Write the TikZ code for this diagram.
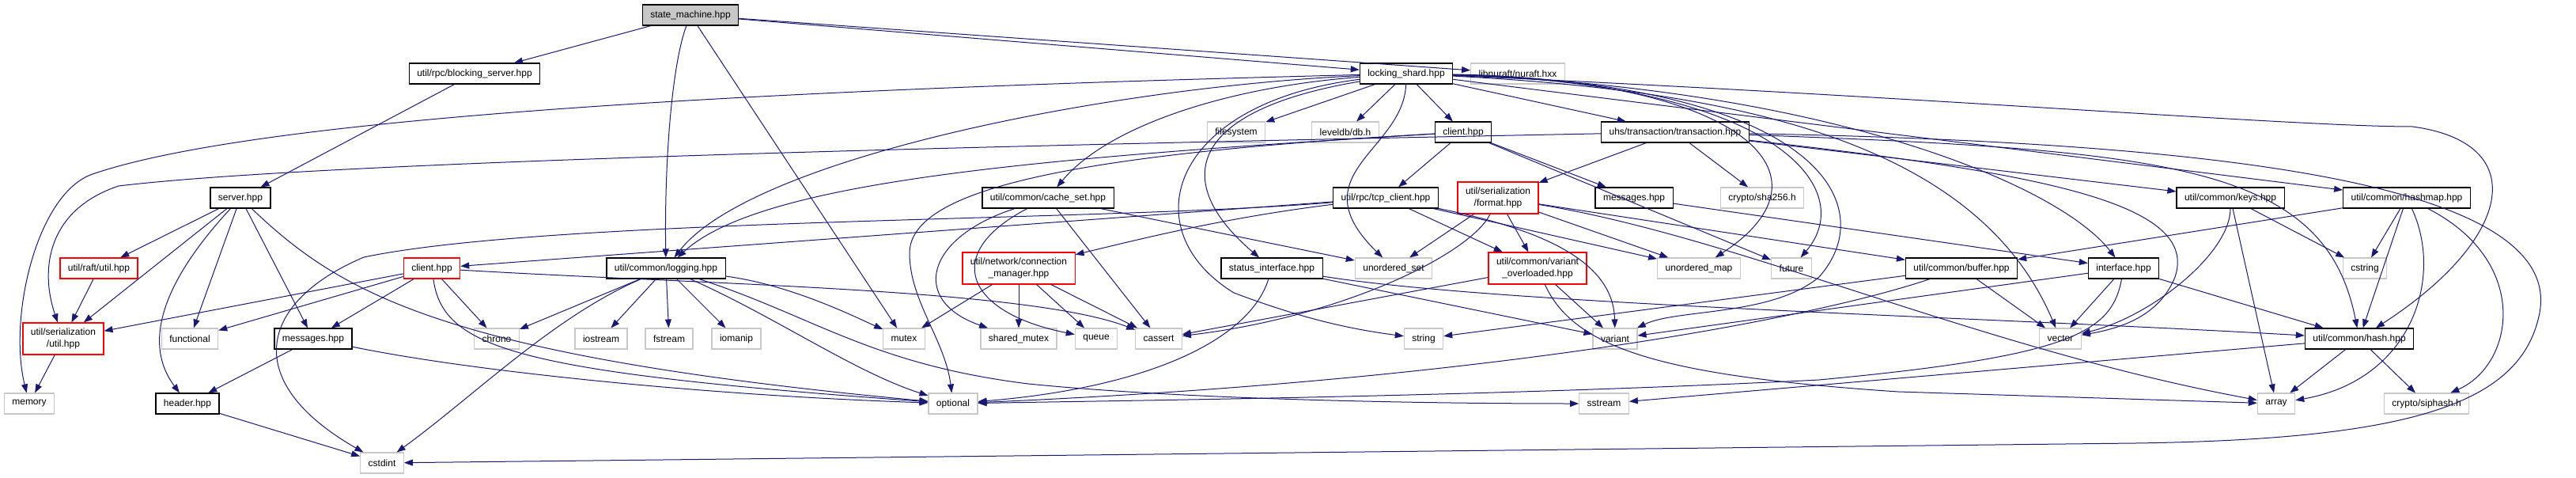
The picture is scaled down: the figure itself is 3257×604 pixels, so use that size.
\documentclass[tikz,border=0pt]{standalone}
\usepackage{fontspec}
\setmainfont{Liberation Sans}
\usetikzlibrary{arrows.meta}
\definecolor{edgeblue}{HTML}{191970}
\definecolor{extgray}{HTML}{C8C8C8}
\tikzset{
  file/.style={draw=black, line width=1.1pt, fill=white, inner xsep=10pt, inner ysep=0pt,
    minimum height=26pt, font=\fontsize{12}{15}\selectfont, align=center},
  sysfile/.style={file, draw=extgray},
  cutfile/.style={file, draw=red, minimum height=40pt},
  rootfile/.style={file, fill=extgray},
  inc/.style={draw=edgeblue, line width=1pt, -{Triangle[length=11pt,width=8pt]}},
}
\begin{document}
\begin{tikzpicture}[x=1pt,y=-1pt]
\useasboundingbox (0,0) rectangle (3257,604);

% row 0 and 1
\node[rootfile] (sm) at (873,19) {state\_machine.hpp};
\node[file] (bserver) at (600,93) {util/rpc/blocking\_server.hpp};
\node[file] (lshard) at (1778,93) {locking\_shard.hpp};
\node[sysfile] (nuraft) at (1919,93) {libnuraft/nuraft.hxx};

% row 2
\node[sysfile] (fsys) at (1563,167) {filesystem};
\node[sysfile] (leveldb) at (1701,167) {leveldb/db.h};
\node[file] (lsclient) at (1850,167) {client.hpp};
\node[file] (tx) at (2118,167) {uhs/transaction/transaction.hpp};

% row 3
\node[file] (server) at (304,250) {server.hpp};
\node[file] (cacheset) at (1325,250) {util/common/cache\_set.hpp};
\node[file] (tcpclient) at (1752,250) {util/rpc/tcp\_client.hpp};
\node[cutfile] (format) at (1894,250) {util/serialization\\/format.hpp};
\node[file] (lsmsg) at (2066,250) {messages.hpp};
\node[sysfile] (sha) at (2228,250) {crypto/sha256.h};
\node[file] (keys) at (2820,250) {util/common/keys.hpp};
\node[file] (hashmap) at (3043,250) {util/common/hashmap.hpp};

% row 4
\node[cutfile, minimum height=26pt] (raftutil) at (125,339) {util/raft/util.hpp};
\node[cutfile, minimum height=26pt] (rclient) at (546,339) {client.hpp};
\node[file] (logging) at (842,339) {util/common/logging.hpp};
\node[cutfile] (connmgr) at (1288,339) {util/network/connection\\\_manager.hpp};
\node[file] (statusif) at (1608,339) {status\_interface.hpp};
\node[sysfile] (uset) at (1762,339) {unordered\_set};
\node[cutfile] (varover) at (1944,339) {util/common/variant\\\_overloaded.hpp};
\node[sysfile] (umap) at (2148,339) {unordered\_map};
\node[sysfile] (future) at (2265,339) {future};
\node[file] (buffer) at (2480,339) {util/common/buffer.hpp};
\node[file] (iface) at (2685,339) {interface.hpp};
\node[sysfile] (cstring) at (2990,339) {cstring};

% row 5
\node[cutfile] (serutil) at (80,428) {util/serialization\\/util.hpp};
\node[sysfile] (functional) at (240,428) {functional};
\node[file] (rmsg) at (396,428) {messages.hpp};
\node[sysfile] (chrono) at (628,428) {chrono};
\node[sysfile] (iostream) at (760,428) {iostream};
\node[sysfile] (fstream) at (846,428) {fstream};
\node[sysfile] (iomanip) at (931,428) {iomanip};
\node[sysfile] (mutex) at (1143,428) {mutex};
\node[sysfile] (smutex) at (1288,428) {shared\_mutex};
\node[sysfile] (queue) at (1386,428) {queue};
\node[sysfile] (cassert) at (1465,428) {cassert};
\node[sysfile] (string) at (1800,428) {string};
\node[sysfile] (variant) at (2042,428) {variant};
\node[sysfile] (vector) at (2605,428) {vector};
\node[file] (hash) at (2983,428) {util/common/hash.hpp};

% row 6 and 7
\node[sysfile] (memory) at (37,510) {memory};
\node[file] (header) at (237,510) {header.hpp};
\node[sysfile] (optional) at (1205,510) {optional};
\node[sysfile] (sstream) at (2028,510) {sstream};
\node[sysfile] (array) at (2878,510) {array};
\node[sysfile] (siphash) at (3068,510) {crypto/siphash.h};
\node[sysfile] (cstdint) at (483,585) {cstdint};

% state_machine.hpp
\draw[inc] (sm) -- (bserver);
\draw[inc] (sm) -- (lshard);
\draw[inc] (sm) -- (nuraft);
\draw[inc] (sm) .. controls (850,80) and (840,200) .. (logging);
\draw[inc] (sm) -- (mutex);

% rpc server side
\draw[inc] (bserver) -- (server);
\draw[inc] (server) -- (raftutil);
\draw[inc] (server) -- (serutil);
\draw[inc] (server) .. controls (230,330) and (170,420) .. (header);
\draw[inc] (server) -- (functional);
\draw[inc] (server) -- (rmsg);
\draw[inc] (server) .. controls (430,370) and (560,450) .. (optional);
\draw[inc] (raftutil) -- (serutil);
\draw[inc] (serutil) -- (memory);
\draw[inc] (rmsg) -- (header);
\draw[inc] (rmsg) .. controls (600,470) and (900,500) .. (optional);
\draw[inc] (header) -- (cstdint);

% rpc client
\draw[inc] (rclient) -- (serutil);
\draw[inc] (rclient) -- (functional);
\draw[inc] (rclient) -- (rmsg);
\draw[inc] (rclient) -- (chrono);
\draw[inc] (rclient) .. controls (560,440) and (650,470) .. (optional);
\draw[inc] (rclient) .. controls (900,360) and (1300,365) .. (cassert);

% logging
\draw[inc] (logging) -- (chrono);
\draw[inc] (logging) .. controls (700,400) and (600,500) .. (cstdint);
\draw[inc] (logging) -- (iostream);
\draw[inc] (logging) -- (fstream);
\draw[inc] (logging) -- (iomanip);
\draw[inc] (logging) .. controls (980,400) and (1080,470) .. (optional);
\draw[inc] (logging) .. controls (1030,400) and (1100,460) .. (1300,485)
  .. controls (1500,505) and (1800,510) .. (sstream);
\draw[inc] (logging) .. controls (1000,360) and (1080,400) .. (mutex);

% locking_shard.hpp
\draw[inc] (lshard) -- (fsys);
\draw[inc] (lshard) -- (leveldb);
\draw[inc] (lshard) -- (lsclient);
\draw[inc] (lshard) -- (tx);
\draw[inc] (lshard) .. controls (1550,110) and (1400,160) .. (cacheset);
\draw[inc] (lshard) .. controls (1400,110) and (950,200) .. (logging);
\draw[inc] (lshard) .. controls (1100,110) and (350,140) .. (117,220)
  .. controls (47,244) and (10,400) .. (memory);
\draw[inc] (lshard) .. controls (1480,130) and (1430,290) .. (1560,370)
  .. controls (1640,400) and (1700,415) .. (string);
\draw[inc] (lshard) .. controls (1500,140) and (1480,230) .. (statusif);
\draw[inc] (lshard) .. controls (1775,190) and (1640,220) .. (uset);
\draw[inc] (lshard) .. controls (2200,100) and (2330,220) .. (umap);
\draw[inc] (lshard) .. controls (2250,105) and (2350,240) .. (future);
\draw[inc] (lshard) .. controls (2300,105) and (2380,260) .. (2300,350)
  .. controls (2240,400) and (2120,390) .. (variant);
\draw[inc] (lshard) .. controls (2200,115) and (2500,180) .. (vector);
\draw[inc] (lshard) .. controls (2300,110) and (2600,230) .. (iface);
\draw[inc] (lshard) .. controls (2400,120) and (2900,160) .. (3050,160)
  .. controls (3200,180) and (3180,300) .. (hash);
\draw[inc] (lshard) -- (hashmap);

% client.hpp (locking shard)
\draw[inc] (lsclient) -- (tcpclient);
\draw[inc] (lsclient) -- (lsmsg);
\draw[inc] (lsclient) .. controls (1300,200) and (960,230) .. (logging);
\draw[inc] (lsclient) .. controls (1350,195) and (1150,240) .. (1150,320)
  .. controls (1150,380) and (1195,430) .. (optional);
\draw[inc] (lsclient) -- (future);
\draw[inc] (lsmsg) -- (iface);

% transaction
\draw[inc] (tx) -- (format);
\draw[inc] (tx) -- (sha);
\draw[inc] (tx) -- (keys);
\draw[inc] (tx) .. controls (1200,185) and (400,205) .. (150,235)
  .. controls (60,265) and (50,340) .. (serutil);
\draw[inc] (tx) .. controls (2750,190) and (2940,210) .. (hash);
\draw[inc] (tx) .. controls (2600,220) and (2780,260) .. (2750,350)
  .. controls (2730,400) and (2680,415) .. (vector);
\draw[inc] (tx) .. controls (2800,180) and (3250,230) .. (3210,400)
  .. controls (3185,510) and (3050,555) .. (2700,560) -- (cstdint);

% tcp_client
\draw[inc] (tcpclient) -- (rclient);
\draw[inc] (tcpclient) .. controls (1550,275) and (1450,300) .. (connmgr);
\draw[inc] (tcpclient) .. controls (1400,280) and (700,275) .. (460,325)
  .. controls (330,380) and (300,480) .. (cstdint);
\draw[inc] (tcpclient) -- (umap);
\draw[inc] (tcpclient) -- (varover);
\draw[inc] (tcpclient) .. controls (1950,290) and (2040,330) .. (variant);

% serialization format
\draw[inc] (format) -- (varover);
\draw[inc] (format) -- (uset);
\draw[inc] (format) .. controls (1860,320) and (1700,400) .. (cassert);
\draw[inc] (format) -- (umap);
\draw[inc] (format) -- (buffer);
\draw[inc] (format) .. controls (2200,300) and (2500,440) .. (array);

% connection manager
\draw[inc] (connmgr) -- (mutex);
\draw[inc] (connmgr) -- (smutex);
\draw[inc] (connmgr) -- (queue);
\draw[inc] (connmgr) -- (cassert);

% cache set
\draw[inc] (cacheset) -- (cassert);
\draw[inc] (cacheset) .. controls (1170,300) and (1150,380) .. (smutex);
\draw[inc] (cacheset) .. controls (1190,320) and (1220,395) .. (queue);
\draw[inc] (cacheset) -- (uset);

% status interface
\draw[inc] (statusif) .. controls (1580,430) and (1450,490) .. (optional);
\draw[inc] (statusif) -- (variant);
\draw[inc] (statusif) .. controls (1900,385) and (2500,400) .. (hash);

% variant overloaded
\draw[inc] (varover) -- (variant);
\draw[inc] (varover) -- (cassert);
\draw[inc] (varover) .. controls (1990,440) and (2100,475) .. (2400,495) -- (array);

% buffer
\draw[inc] (buffer) -- (vector);
\draw[inc] (buffer) -- (string);
\draw[inc] (buffer) .. controls (2300,400) and (1900,480) .. (optional);

% interface
\draw[inc] (iface) -- (vector);
\draw[inc] (iface) -- (hash);
\draw[inc] (iface) -- (variant);
\draw[inc] (iface) .. controls (2670,420) and (2620,450) .. (2300,480)
  .. controls (1900,500) and (1500,505) .. (optional);

% keys, hashmap, hash
\draw[inc] (keys) .. controls (2820,320) and (2720,400) .. (vector);
\draw[inc] (keys) -- (array);
\draw[inc] (keys) -- (cstring);
\draw[inc] (hashmap) -- (cstring);
\draw[inc] (hashmap) -- (hash);
\draw[inc] (hashmap) .. controls (3090,350) and (3050,480) .. (array);
\draw[inc] (hashmap) .. controls (3200,330) and (3180,460) .. (siphash);
\draw[inc] (hashmap) -- (buffer);
\draw[inc] (hash) -- (array);
\draw[inc] (hash) -- (siphash);
\draw[inc] (hash) -- (sstream);
\end{tikzpicture}
\end{document}
